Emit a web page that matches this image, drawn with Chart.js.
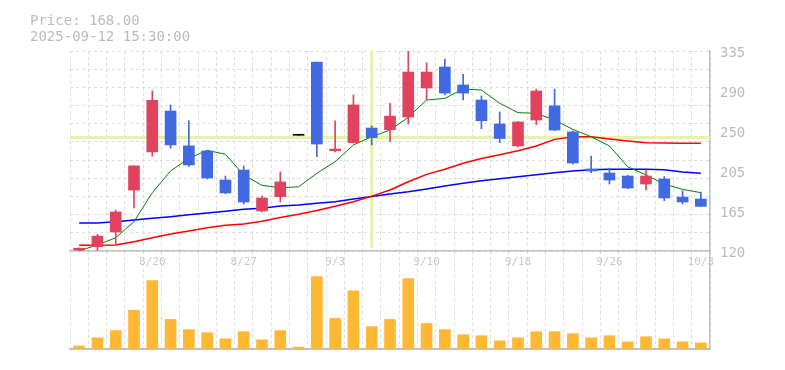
<!DOCTYPE html>
<html>
<head>
<meta charset="utf-8">
<script src="https://cdn.jsdelivr.net/npm/chart.js@4/dist/chart.umd.min.js"></script>
<style>
  body { margin: 0; background: #fff; }
  #wrap { position: relative; width: 785px; height: 370px; }
  #wrap canvas { position: absolute; left: 0; top: 0; }
  #info { position: absolute; left: 30px; top: 12px; font: 14px/16px "DejaVu Sans Mono", monospace; color: #bbb; }
</style>
</head>
<body>
<div id="wrap">
  <canvas id="volume" width="785" height="370"></canvas>
  <canvas id="price" width="785" height="370"></canvas>
  <div id="info">Price: 168.00<br>2025-09-12 15:30:00</div>
</div>
<script>
/****************** DATA **********************/

var dates = ['8/14', '8/15', '8/18', '8/19', '8/20', '8/21', '8/22', '8/25', '8/26', '8/27',
             '8/28', '8/29', '9/1', '9/2', '9/3', '9/4', '9/5', '9/8', '9/9', '9/10',
             '9/11', '9/12', '9/16', '9/17', '9/18', '9/19', '9/22', '9/24', '9/25', '9/26',
             '9/29', '9/30', '10/1', '10/2', '10/3'];

var opens  = [121, 124.6, 140.5, 185.5, 226.5, 270.5, 233, 227.5, 196.3, 207,
              163, 178.4, 244.4, 323, 227.8, 236.5, 252.2, 250.4, 264, 295.2,
              317.8, 298.5, 282.3, 256.5, 232.9, 260.8, 276, 248, 208.2, 203.8,
              200.6, 192, 197.4, 178, 175.9];
var closes = [123, 136, 162, 211.5, 282, 234, 212.5, 198.5, 182.4, 172.7,
              177, 194.2, 244.4, 235, 229.6, 277, 241.8, 265, 312.4, 312.4,
              289.8, 289.8, 260, 241, 258.7, 292, 250, 214.6, 206, 196.3,
              187.7, 200.6, 177, 172.7, 168];
var highs  = [123.5, 138, 164, 211.5, 292, 277, 260, 228, 200.6, 211.4,
              179, 205, 244.4, 323, 260, 287.7, 254.4, 278.8, 335, 322.4,
              326.4, 310, 286.6, 269.4, 259.5, 294, 294, 249, 222, 209.2,
              201.5, 207, 200, 184.8, 183.4];
var lows   = [120.5, 120.5, 127.5, 166, 222, 230.5, 211, 197.5, 181.5, 170.5,
              162, 172.7, 244.4, 221.5, 226.4, 236, 234, 237.5, 256.5, 282.3,
              287.7, 282.3, 251.5, 236.4, 232, 255.8, 249.4, 213.5, 204.2, 192,
              187, 185.6, 174, 170.5, 168];

var ma5  = [120.3, 126.4, 134.3, 151.5, 182.7, 206, 219.6, 228.2, 224, 201.7,
            190.6, 188, 189, 203.5, 216, 234, 242.9, 250, 263.7, 282.3,
            284.1, 294.2, 293, 278.8, 268.7, 268, 260.8, 250.8, 242.9, 232.9,
            210.6, 201.7, 192, 186.3, 182.7];
var ma25 = [126.1, 126.1, 126.4, 130, 134.3, 138.3, 141.5, 145, 147.6, 149,
            151.9, 156, 159.5, 163.5, 168, 173, 179, 185.6, 194.5, 202.4,
            207.8, 214.3, 219.4, 223.5, 227.8, 232.9, 240, 242.9, 242.9, 240.4,
            238.2, 236.4, 236.1, 235.8, 235.8];
var ma75 = [150.1, 150.1, 151.5, 153.3, 155.1, 156.9, 159, 160.9, 162.7, 164.8,
            165.9, 168.4, 169.4, 171.3, 173, 176, 178.5, 181.3, 183.7, 186.6,
            189.9, 192.8, 195.6, 197.7, 199.9, 202, 204.2, 206, 207.4, 207.8,
            207.8, 207.8, 207.4, 204.9, 203.5];

var volumes = [3, 11, 18, 38, 67, 29, 19, 16, 10, 17,
               9, 18, 2, 71, 30, 57, 22, 29, 69, 25,
               19, 14, 13, 8, 11, 17, 17, 15, 11, 13,
               7, 12, 10, 7, 6];

var priceTicks = [120, 163, 206, 249, 292, 335];
var priceTickLabels = ['120', '165', '205', '250', '290', '335'];

var crossIndex = 16;
var crossPrice = 242;

/****************** STYLE **********************/

var UP_COLOR = '#e0435e';
var DOWN_COLOR = '#4169e1';
var GRID_COLOR = '#dcdcdc';
var AXIS_COLOR = '#c0c0c0';
var FONT = '"DejaVu Sans Mono", monospace';

/****************** FONCTION **********************/

function candleColor(i)
{
    if (closes[i] > opens[i]) return UP_COLOR;
    if (closes[i] < opens[i]) return DOWN_COLOR;
    return '#000';
}

var crosshair = {
    id: 'crosshair',
    beforeDatasetsDraw: function (chart) {
        var ctx = chart.ctx, area = chart.chartArea;
        var x = chart.scales.x.getPixelForValue(crossIndex);
        var y = chart.scales.y.getPixelForValue(crossPrice);
        ctx.save();
        ctx.strokeStyle = '#e4f4a6';
        ctx.lineWidth = 3;
        ctx.beginPath();
        ctx.moveTo(x, area.top);
        ctx.lineTo(x, area.bottom - 3);
        ctx.moveTo(area.left, y);
        ctx.lineTo(area.right, y);
        ctx.stroke();
        ctx.restore();
    }
};

function makePriceChart()
{
    var colors = dates.map(function (d, i) { return candleColor(i); });

    new Chart(document.getElementById('price'), {
        data: {
            labels: dates,
            datasets: [{
                type: 'bar',
                yAxisID: 'y',
                data: dates.map(function (d, i) { return [lows[i], highs[i]]; }),
                backgroundColor: colors,
                barThickness: 1,
                grouped: false,
                order: 0
            }, {
                type: 'bar',
                yAxisID: 'y',
                data: dates.map(function (d, i) { return [opens[i], closes[i]]; }),
                backgroundColor: colors,
                barThickness: 11,
                minBarLength: 1,
                grouped: false,
                order: 0
            }, {
                type: 'line',
                yAxisID: 'y',
                data: ma5,
                borderColor: '#008000',
                borderWidth: 1,
                pointRadius: 0,
                order: 1
            }, {
                type: 'line',
                yAxisID: 'y',
                data: ma25,
                borderColor: '#ff0000',
                borderWidth: 1.5,
                pointRadius: 0,
                order: 1
            }, {
                type: 'line',
                yAxisID: 'y',
                data: ma75,
                borderColor: '#0000ff',
                borderWidth: 1.5,
                pointRadius: 0,
                order: 1
            }]
        },
        options: {
            responsive: false,
            devicePixelRatio: 1,
            animation: false,
            events: [],
            layout: { padding: { left: 70, top: 51, right: 0, bottom: 99 } },
            plugins: { legend: { display: false }, tooltip: { enabled: false } },
            scales: {
                x: {
                    offset: true,
                    grid: { offset: true, color: GRID_COLOR, drawTicks: false },
                    border: { color: AXIS_COLOR, width: 1.5, dash: [3, 3] },
                    ticks: {
                        autoSkip: false, maxRotation: 0, minRotation: 0, padding: 5,
                        color: '#c8c8c8', font: { family: FONT, size: 11 },
                        callback: function (v, i) { return i % 5 === 4 ? dates[i] : ''; }
                    },
                    afterFit: function (s) { s.height = 20; }
                },
                yg: {
                    position: 'left', min: 0, max: 11,
                    ticks: { display: false, stepSize: 1 },
                    grid: { color: GRID_COLOR, drawTicks: false },
                    border: { display: false, dash: [3, 3] },
                    afterFit: function (s) { s.width = 0; }
                },
                y: {
                    position: 'right', min: 120, max: 335,
                    grid: { display: false, drawTicks: false },
                    border: { color: AXIS_COLOR, width: 1.5 },
                    ticks: {
                        padding: 10, labelOffset: 2,
                        color: '#bbb', font: { family: FONT, size: 14 },
                        callback: function (v, i) { return priceTickLabels[i]; }
                    },
                    afterBuildTicks: function (s) {
                        s.ticks = priceTicks.map(function (v) { return { value: v }; });
                    },
                    afterFit: function (s) { s.width = 75; }
                }
            }
        },
        plugins: [crosshair]
    });
}

function makeVolumeChart()
{
    new Chart(document.getElementById('volume'), {
        type: 'bar',
        data: {
            labels: dates,
            datasets: [{
                data: volumes,
                backgroundColor: '#ffb833',
                barThickness: 11
            }]
        },
        options: {
            responsive: false,
            devicePixelRatio: 1,
            animation: false,
            events: [],
            layout: { padding: { left: 70, top: 251, right: 0, bottom: 21 } },
            plugins: { legend: { display: false }, tooltip: { enabled: false } },
            scales: {
                x: {
                    offset: true,
                    grid: { offset: true, color: GRID_COLOR, drawTicks: false },
                    border: { color: AXIS_COLOR, width: 2, dash: [3, 3] },
                    ticks: { display: false },
                    afterFit: function (s) { s.height = 0; }
                },
                y: {
                    position: 'right', min: 0, max: 96,
                    grid: { display: false, drawTicks: false },
                    border: { color: AXIS_COLOR, width: 1.5 },
                    ticks: { display: false },
                    afterFit: function (s) { s.width = 75; }
                }
            }
        }
    });
}

makeVolumeChart();
makePriceChart();
</script>
</body>
</html>
